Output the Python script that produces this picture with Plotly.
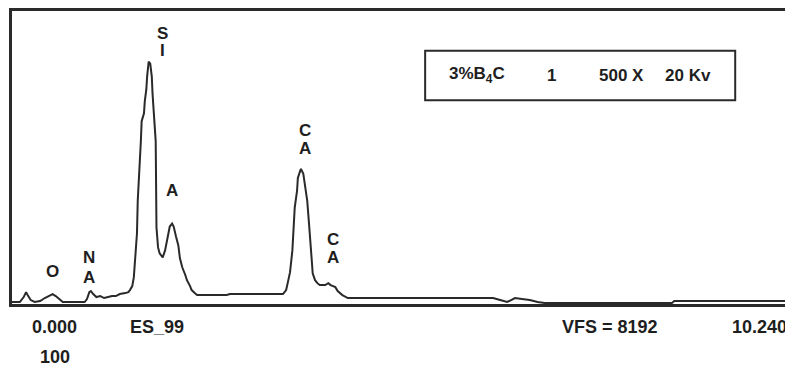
import plotly.graph_objects as go

# EDS spectrum: energy (keV) vs counts (full scale 8192)
energy_kev = [0.00, 0.10, 0.15, 0.18, 0.20, 0.24, 0.29, 0.36, 0.42, 0.49, 0.52, 0.56, 0.60, 0.65,
              0.93, 0.96, 0.99, 1.01, 1.04, 1.08, 1.13, 1.18, 1.23, 1.28, 1.33, 1.38, 1.45, 1.49,
              1.51, 1.54, 1.56, 1.57, 1.59, 1.60, 1.61, 1.63, 1.64, 1.65, 1.66, 1.69, 1.70, 1.72,
              1.73, 1.74, 1.75, 1.77, 1.78, 1.79, 1.80, 1.82, 1.83, 1.84, 1.85, 1.87, 1.89, 1.93,
              1.96, 2.00, 2.02, 2.05, 2.07, 2.10, 2.13, 2.15, 2.18, 2.22, 2.24, 2.28, 2.30, 2.34,
              2.37, 2.75, 2.79, 3.47, 3.51, 3.53, 3.56, 3.59, 3.60, 3.62, 3.65, 3.66, 3.69, 3.70,
              3.73, 3.75, 3.78, 3.80, 3.82, 3.84, 3.85, 3.88, 3.91, 3.94, 4.01, 4.05, 4.08, 4.14,
              4.17, 4.23, 4.30, 6.16, 6.25, 6.34, 6.39, 6.44, 6.53, 6.63, 6.73, 6.82, 8.45, 8.48,
              10.00]
counts = [56, 56, 194, 333, 250, 111, 56, 83, 167, 250, 278, 222, 139, 56,
          56, 139, 333, 361, 278, 194, 222, 167, 194, 222, 222, 278, 305, 333,
          389, 500, 750, 1027, 1499, 1972, 2888, 3582, 3999, 4554, 5110, 5332, 5665, 5998,
          6359, 6637, 6776, 6720, 6554, 6359, 5859, 5249, 4749, 4554, 2138, 1583, 1416, 1305,
          1499, 1972, 2166, 2249, 2166, 1888, 1638, 1277, 1027, 805, 666, 500, 389, 305,
          250, 250, 278, 278, 389, 583, 889, 1499, 1972, 2694, 3166, 3527, 3721, 3777,
          3638, 3305, 2888, 2333, 1860, 1166, 861, 666, 583, 528, 528, 583, 528, 472,
          361, 250, 167, 167, 111, 56, 111, 167, 139, 111, 56, 28, 28, 83,
          83]

peak_labels = [
    ("S", 1.93, 7550), ("I", 1.93, 7100),
    ("A", 2.05, 3170),
    ("O", 0.52, 916),
    ("N", 0.99, 1300), ("A", 0.99, 750),
    ("C", 3.75, 4850), ("A", 3.75, 4360),
    ("C", 4.11, 1800), ("A", 4.11, 1290),
]

info_texts = [("3%B<sub>4</sub>C", 0.557, "left"), ("1", 0.691, "center"),
              ("500 X", 0.749, "left"), ("20 Kv", 0.834, "left")]

bottom_texts = [("0.000", 0.055, -0.078, "center"), ("100", 0.055, -0.18, "center"),
                ("ES_99", 0.186, -0.078, "center"), ("VFS = 8192", 0.766, -0.078, "center"),
                ("10.240", 0.995, -0.078, "right")]

FONT = "Arial, Liberation Sans, sans-serif"
TXT = "#1e1e1e"

fig = go.Figure()
fig.add_trace(go.Scatter(x=energy_kev, y=counts, mode="lines",
                         line=dict(color="#2a2a2a", width=2), hoverinfo="skip"))

for t, x, y in peak_labels:
    fig.add_annotation(x=x, y=y, xref="x", yref="y", text=f"<b>{t}</b>", showarrow=False,
                       yanchor="middle", font=dict(family=FONT, size=17, color=TXT))

fig.add_shape(type="rect", xref="paper", yref="paper", x0=0.529, x1=0.926, y0=0.695, y1=0.864,
              line=dict(color="#2a2a2a", width=2))
for t, x, anc in info_texts:
    fig.add_annotation(x=x, y=0.78, xref="paper", yref="paper", text=f"<b>{t}</b>",
                       xanchor=anc, yanchor="middle", showarrow=False,
                       font=dict(family=FONT, size=17, color=TXT))

for t, x, y, anc in bottom_texts:
    fig.add_annotation(x=x, y=y, xref="paper", yref="paper", text=f"<b>{t}</b>",
                       xanchor=anc, yanchor="middle", showarrow=False,
                       font=dict(family=FONT, size=18, color=TXT))

# page body has an 8px default margin; size the figure so it fills the 793x369 window
fig.update_layout(
    width=785, height=361,
    margin=dict(l=4, r=0, t=1, b=65),
    paper_bgcolor="white", plot_bgcolor="white",
    showlegend=False,
    xaxis=dict(range=[0, 10.0], showgrid=False, zeroline=False, showticklabels=False,
               ticks="", showline=True, linecolor="#2a2a2a", linewidth=3, mirror=True),
    yaxis=dict(range=[0, 8192], showgrid=False, zeroline=False, showticklabels=False,
               ticks="", showline=True, linecolor="#2a2a2a", linewidth=3),
)

fig.write_html("out.html")
